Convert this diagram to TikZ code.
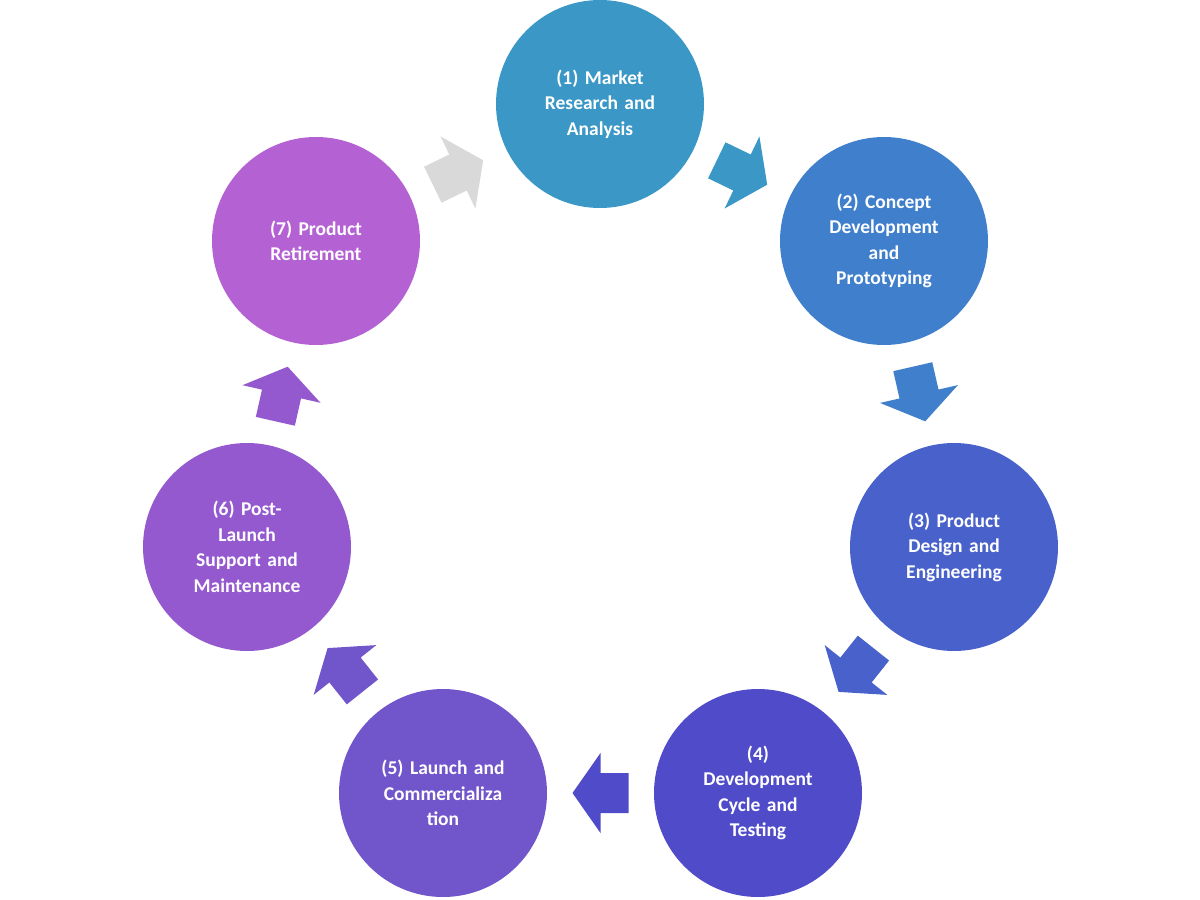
\documentclass[tikz,border=0pt]{standalone}
\usepackage{fontspec}
\setmainfont{Carlito}
\usetikzlibrary{calc}
\definecolor{c1}{HTML}{3A97C6}
\definecolor{c2}{HTML}{3F7FCB}
\definecolor{c3}{HTML}{4962CB}
\definecolor{c4}{HTML}{4F4BC9}
\definecolor{c5}{HTML}{7155CB}
\definecolor{c6}{HTML}{9459CF}
\definecolor{c7}{HTML}{B462D3}
\definecolor{cg}{HTML}{D9D9D9}
\begin{document}
\begin{tikzpicture}[x=1pt,y=-1pt,
  stage/.style={circle,minimum size=208pt,inner sep=0pt,text=white,align=center,
    text width=135pt,font=\bfseries\fontsize{19.5}{25.5}\selectfont},
  blk/.style={}]
\useasboundingbox (0,0) rectangle (1200,900);
\node[stage,fill=c1] (n1) at (600,104) {(1) Market\\Research and\\Analysis};
\node[stage,fill=c2] (n2) at (884,241) {(2) Concept\\Development\\and\\Prototyping};
\node[stage,fill=c3] (n3) at (954,547) {(3) Product\\Design and\\Engineering};
\node[stage,fill=c4] (n4) at (758,793) {(4)\\Development\\Cycle and\\Testing};
\node[stage,fill=c5] (n5) at (443,793) {(5) Launch and\\Commercializa\\tion};
\node[stage,fill=c6] (n6) at (247,547) {(6) Post-\\Launch\\Support and\\Maintenance};
\node[stage,fill=c7] (n7) at (316,241) {(7) Product\\Retirement};
\foreach \a/\b/\ang/\col in {n1/n2/-25.8/c1, n2/n3/-77.1/c2, n3/n4/-128.5/c3, n4/n5/180/c4, n5/n6/128.5/c5, n6/n7/77.3/c6, n7/n1/25.8/cg}{
  \coordinate (m) at ($(\a)!0.5!(\b)$);
  \begin{scope}[shift={(m)},rotate=\ang]
    \fill[\col] (-28,-20) -- (0,-20) -- (0,-40) -- (28,0) -- (0,40) -- (0,20) -- (-28,20) -- cycle;
  \end{scope}
}
\end{tikzpicture}
\end{document}
